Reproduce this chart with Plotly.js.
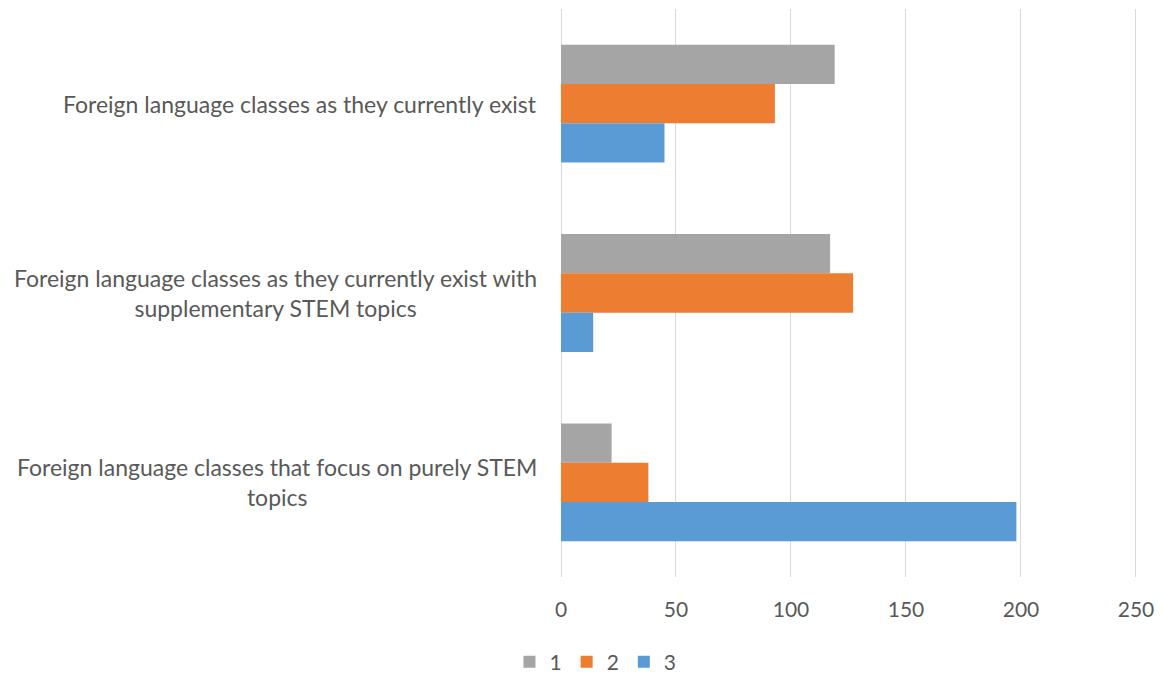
<!DOCTYPE html>
<html>
<head>
<meta charset="utf-8">
<script src="https://cdn.plot.ly/plotly-3.0.1.min.js"></script>
<style>html,body{margin:0;padding:0;background:#fff;}#chart{width:1163px;height:678px;}</style>
</head>
<body>
<div id="chart"></div>
<script>
var categories = [
  "Foreign language classes as they currently exist",
  "Foreign language classes as they currently exist with supplementary STEM topics",
  "Foreign language classes that focus on purely STEM topics"
];
var categoryLabels = [
  "Foreign language classes as they currently exist",
  "Foreign language classes as they currently exist with<br>supplementary STEM topics",
  "Foreign language classes that focus on purely STEM<br>topics"
];
var seriesNames = ["1", "2", "3"];
var series1 = [119, 117, 22];
var series2 = [93, 127, 38];
var series3 = [45, 14, 198];
var xTicks = [0, 50, 100, 150, 200, 250];

var colors = ["#A5A5A5", "#ED7D31", "#5B9BD5"];
var allSeries = [series1, series2, series3];
var traces = allSeries.map(function (vals, i) {
  return {
    type: "bar",
    orientation: "h",
    name: seriesNames[i],
    x: vals,
    y: categories,
    marker: {color: colors[i], line: {width: 0}},
    hoverinfo: "x+name"
  };
});

var textColor = "#595959";
var font = "Lato, 'Open Sans', sans-serif";

var annotations = categories.map(function (c, i) {
  return {
    xref: "paper", yref: "y",
    x: 0, y: c,
    xanchor: "right", yanchor: "middle",
    xshift: -22,
    align: "center",
    showarrow: false,
    text: categoryLabels[i],
    font: {family: font, size: 23, color: textColor}
  };
});

var layout = {
  width: 1163, height: 678,
  margin: {l: 561, r: 26, t: 9, b: 101, autoexpand: false},
  paper_bgcolor: "#ffffff",
  plot_bgcolor: "#ffffff",
  barmode: "group",
  bargap: 0.378,
  bargroupgap: 0,
  font: {family: font, size: 21, color: textColor},
  xaxis: {
    range: [0, 250.45],
    tickvals: xTicks,
    ticktext: xTicks.map(String),
    showgrid: true,
    gridcolor: "#D9D9D9",
    gridwidth: 1,
    zeroline: true,
    zerolinecolor: "#D9D9D9",
    zerolinewidth: 1,
    showline: false,
    ticks: "",
    ticklen: 0,
    ticklabelstandoff: 18,
    tickfont: {family: font, size: 21, color: textColor},
    fixedrange: true
  },
  yaxis: {
    type: "category",
    autorange: "reversed",
    showticklabels: false,
    showgrid: false,
    zeroline: false,
    showline: false,
    ticks: "",
    fixedrange: true
  },
  showlegend: true,
  legend: {
    orientation: "h",
    xref: "container", yref: "container",
    x: 0.512, xanchor: "center",
    y: 16 / 678, yanchor: "middle",
    font: {family: font, size: 21, color: textColor},
    itemwidth: 30,
    traceorder: "normal"
  },
  annotations: annotations
};

Plotly.newPlot("chart", traces, layout, {displayModeBar: false, staticPlot: true});
</script>
</body>
</html>
